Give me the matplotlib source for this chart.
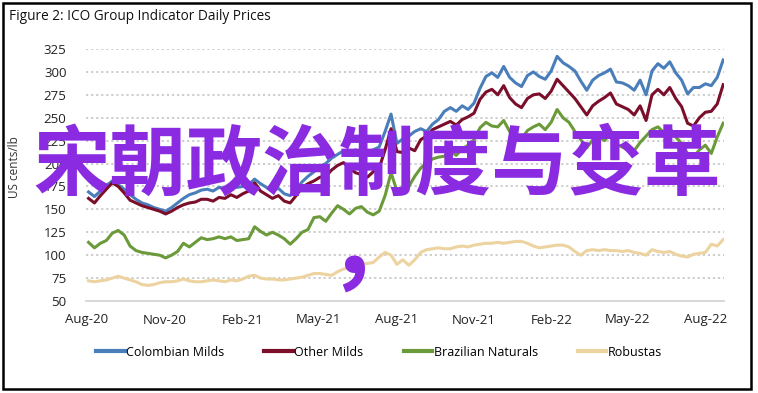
import matplotlib
matplotlib.use("Agg")
import matplotlib.pyplot as plt
import matplotlib.dates as mdates
from matplotlib.patches import Rectangle
import pandas as pd

dates = pd.date_range("2020-08-03", periods=108, freq="7D")

colombian = [169, 164, 170, 176, 181, 177, 172, 166, 161, 157, 155, 152, 150, 148, 152, 157, 162, 166, 168, 171,
             172, 170, 174, 173, 177, 174, 175, 177, 183, 178, 174, 170, 173, 167, 165, 172, 180, 186, 191, 197,
             200, 206, 210, 214, 209, 215, 211, 209, 215, 218, 235, 254, 222, 227, 230, 235, 238, 235, 243, 248,
             257, 261, 257, 263, 259, 266, 282, 295, 299, 294, 306, 294, 288, 284, 296, 300, 295, 292, 301, 317,
             310, 306, 301, 290, 280, 291, 296, 299, 303, 289, 288, 285, 280, 291, 275, 301, 309, 304, 311, 299,
             291, 276, 283, 283, 287, 285, 294, 313]
other_milds = [162, 157, 165, 172, 179, 175, 168, 160, 157, 154, 152, 150, 148, 145, 148, 152, 155, 157, 158, 161,
               161, 159, 163, 162, 166, 163, 167, 170, 179, 170, 166, 162, 165, 159, 157, 165, 174, 178, 181, 185,
               186, 193, 198, 201, 195, 190, 188, 185, 191, 195, 215, 238, 213, 212, 217, 214, 226, 230, 237, 240,
               243, 246, 242, 248, 251, 255, 270, 278, 281, 275, 285, 272, 265, 261, 271, 275, 276, 271, 279, 292,
               285, 278, 271, 262, 253, 263, 268, 272, 277, 265, 262, 259, 253, 263, 247, 275, 281, 275, 283, 271,
               262, 244, 241, 250, 256, 257, 265, 286]
brazilian = [114, 108, 113, 116, 124, 127, 122, 110, 105, 103, 102, 101, 100, 97, 100, 104, 113, 109, 114, 119,
             117, 118, 120, 118, 120, 116, 117, 118, 131, 126, 122, 125, 122, 118, 112, 118, 125, 128, 141, 142,
             137, 146, 154, 150, 145, 151, 153, 147, 144, 148, 165, 190, 170, 173, 175, 186, 195, 201, 205, 207,
             208, 213, 209, 216, 220, 226, 239, 245, 241, 240, 247, 235, 230, 227, 236, 240, 243, 237, 245, 259,
             250, 245, 235, 226, 217, 226, 230, 225, 233, 221, 218, 215, 214, 223, 230, 237, 240, 234, 239, 229,
             222, 211, 207, 215, 220, 211, 229, 244]
robustas = [72, 71, 72, 73, 75, 77, 75, 73, 71, 68, 67, 68, 70, 71, 71, 72, 74, 72, 71, 71,
            72, 73, 72, 71, 73, 72, 74, 77, 78, 75, 74, 74, 73, 73, 74, 75, 76, 78, 80, 80,
            79, 78, 82, 85, 86, 89, 90, 91, 92, 98, 103, 100, 90, 95, 89, 95, 103, 106, 107, 108,
            107, 107, 109, 110, 109, 111, 112, 113, 113, 114, 113, 114, 115, 115, 113, 110, 108, 109, 110, 111,
            111, 109, 104, 100, 105, 106, 105, 106, 105, 105, 104, 105, 103, 102, 100, 106, 104, 103, 104, 101,
            99, 98, 101, 102, 103, 112, 110, 117]

series_names = ["Colombian Milds", "Other Milds", "Brazilian Naturals", "Robustas"]
series_colors = ["#4a7ebb", "#7a0e2b", "#6b9a3a", "#ecd3a0"]
yticks = [50, 75, 100, 125, 150, 175, 200, 225, 250, 275, 300, 325]
xtick_dates = pd.to_datetime(["2020-08-01", "2020-11-01", "2021-02-01", "2021-05-01", "2021-08-01",
                              "2021-11-01", "2022-02-01", "2022-05-01", "2022-08-01"])
title = "Figure 2: ICO Group Indicator Daily Prices"
ylabel = "US cents/lb"
overlay = "宋朝政治制度与变革"
overlay_comma = "，"

W, H = 758, 393
fig = plt.figure(figsize=(W / 100, H / 100), dpi=100)
fig.patch.set_facecolor("white")

def px(x0, y0, x1, y1):
    return [x0 / W, 1 - y1 / H, (x1 - x0) / W, (y1 - y0) / H]

ax = fig.add_axes(px(86, 49, 724, 301))
for vals, name, col in zip([colombian, other_milds, brazilian, robustas], series_names, series_colors):
    ax.plot(dates, vals, color=col, lw=2.2, label=name, solid_joinstyle="round")

ax.set_ylim(50, 325)
ax.set_xlim(pd.Timestamp("2020-07-31"), pd.Timestamp("2022-08-23"))
ax.set_yticks(yticks)
ax.set_xticks(xtick_dates)
ax.xaxis.set_major_formatter(mdates.DateFormatter("%b-%y"))
for y in yticks[1:]:
    ax.axhline(y, color="#c9c9c9", lw=1.3, ls=(0, (1.2, 1.6)), zorder=0)
for s in ["top", "right", "left"]:
    ax.spines[s].set_visible(False)
ax.spines["bottom"].set_color("#d4d4d4")
ax.spines["bottom"].set_linewidth(1.3)
ax.tick_params(length=0, labelsize=9.5, colors="#222222")
ax.tick_params(axis="y", pad=14)
ax.tick_params(axis="x", pad=9)
for lab in ax.get_xticklabels() + ax.get_yticklabels():
    lab.set_fontfamily("Open Sans")

fig.text(9 / W, 1 - 16 / H, title, fontsize=9.8, family="Open Sans", va="center", ha="left", color="#111111")
fig.text(14 / W, 1 - 167 / H, ylabel, fontsize=8.5, family="Open Sans", rotation=90, va="center", ha="center",
         color="#333333")

leg = fig.legend(loc="center", bbox_to_anchor=(379 / W, 1 - 352 / H), ncol=4, frameon=False,
                 handlelength=2.3, handletextpad=0.1, columnspacing=3.2,
                 prop={"family": "Open Sans", "size": 9})
for line in leg.get_lines():
    line.set_linewidth(3)

fig.patches.append(Rectangle((2.5 / W, 1 - 389 / H), (751 - 2.5) / W, (389 - 2.5) / H,
                             transform=fig.transFigure, fill=False, ec="black", lw=1.8))

fig.text(33 / W, 1 - 166 / H, overlay, fontsize=55, family=["Noto Sans CJK SC", "DejaVu Sans"],
         weight="bold", color="#8a2be2", va="center", ha="left", zorder=10)
fig.text(375 / W, 1 - 250 / H, overlay_comma, fontsize=70, family=["Noto Sans CJK SC", "DejaVu Sans"],
         weight="bold", color="#8a2be2", va="center", ha="center", zorder=10)

fig.savefig("out.png", dpi=100, facecolor="white")
